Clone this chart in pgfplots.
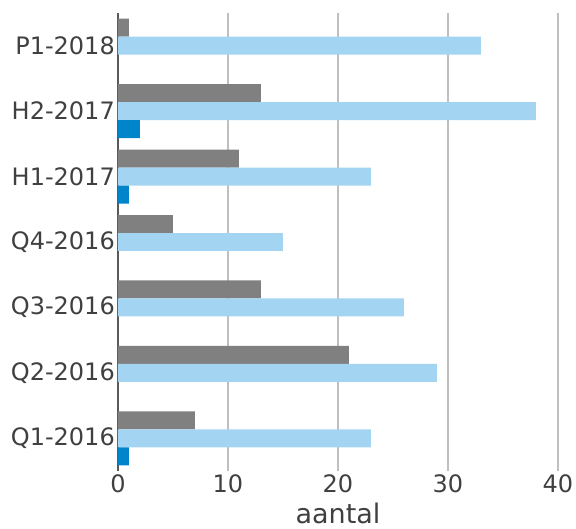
\documentclass[border=0pt]{standalone}
\usepackage{fontspec}
\setmainfont{DejaVu Sans}
\usepackage{pgfplots}
\pgfplotsset{compat=1.18}
\definecolor{cgrey}{RGB}{128,128,128}
\definecolor{clight}{RGB}{163,213,242}
\definecolor{cdark}{RGB}{0,133,202}
\definecolor{ctext}{RGB}{64,64,64}
\definecolor{cgrid}{RGB}{191,191,191}
\definecolor{caxis}{RGB}{89,89,89}
\begin{document}
\begin{tikzpicture}
\path[use as bounding box] (0,0) rectangle (576pt,528pt);
\begin{axis}[
  at={(118pt,57pt)}, anchor=south west,
  scale only axis, width=440pt, height=458pt,
  xmin=0, xmax=40, ymin=-0.5, ymax=6.5,
  xbar, bar width=0.275,
  xtick={0,10,20,30,40},
  ytick={0,...,6},
  yticklabels={Q1-2016,Q2-2016,Q3-2016,Q4-2016,H1-2017,H2-2017,P1-2018},
  xmajorgrids, grid style={cgrid, line width=1.5pt},
  axis x line*=bottom, axis y line*=left,
  x axis line style={draw=none},
  y axis line style={caxis, line width=1.5pt},
  major tick length=0pt,
  tick label style={font=\fontsize{24}{27}\selectfont, text=ctext},
  /pgf/number format/assume math mode=true,
  yticklabel style={inner xsep=3pt},
  xlabel={aantal},
  xlabel style={font=\fontsize{27}{30}\selectfont, text=ctext, at={(axis description cs:0.5,0)}, anchor=base, yshift=-52pt},
]
\addplot[fill=cgrey, draw=none, bar shift=0.275] coordinates {(1,6) (13,5) (11,4) (5,3) (13,2) (21,1) (7,0)};
\addplot[fill=clight, draw=none, bar shift=0] coordinates {(33,6) (38,5) (23,4) (15,3) (26,2) (29,1) (23,0)};
\addplot[fill=cdark, draw=none, bar shift=-0.275] coordinates {(2,5) (1,4) (1,0)};
\end{axis}
\end{tikzpicture}
\end{document}
